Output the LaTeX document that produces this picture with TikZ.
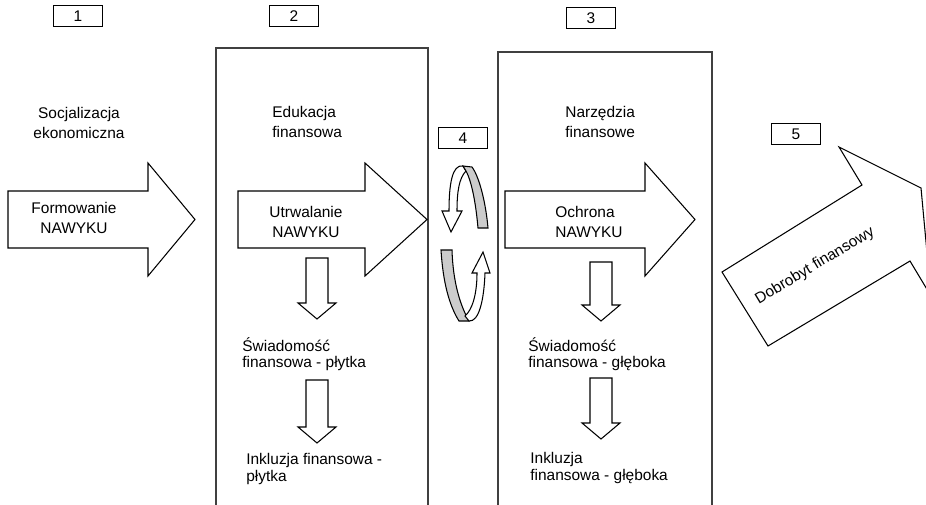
\documentclass[tikz,border=0pt]{standalone}
\usepackage{fontspec}
\setmainfont{Liberation Sans}
\usetikzlibrary{calc,positioning}

\begin{document}
\begin{tikzpicture}[x=0.02cm,y=-0.02cm,
  numbox/.style={draw,line width=0.6pt,minimum width=0.98cm,minimum height=0.42cm,inner sep=0pt,font=\fontsize{8.8}{10}\selectfont},
  frame/.style={draw=black!75,line width=0.8pt},
  shp/.style={draw,line width=0.6pt,fill=white,line join=miter},
  ribbon/.style={draw,line width=0.6pt,fill=gray!40},
  lbl/.style={inner sep=0pt,align=left,font=\fontsize{8.8}{9.4}\selectfont},
  lblw/.style={inner sep=0pt,align=center,font=\fontsize{8.8}{11}\selectfont}]

\useasboundingbox (0,0) rectangle (926,504);
\fill[white] (0,0) rectangle (926,504);
\clip (0,0) rectangle (926,504);

% columns 2 and 3
\draw[frame] (216,520) -- (216,48) -- (428,48) -- (428,520);
\draw[frame] (498,520) -- (498,52) -- (712,52) -- (712,520);

% number boxes
\node[numbox] (n1) at (78,16) {1};
\node[numbox] (n2) at (294,16) {2};
\node[numbox] (n3) at (591,18) {3};
\node[numbox] (n4) at (463,138) {4};
\node[numbox] (n5) at (796,134) {5};

% big arrows to the right
\foreach \xa/\xb/\xc in {8/148/195, 238/365/427, 505/645/695}
  \draw[shp] (\xa,191) -- (\xb,191) -- (\xb,163) -- (\xc,219.5) -- (\xb,276) -- (\xb,248) -- (\xa,248) -- cycle;

% small arrows down
\foreach \cx/\ty/\hy in {317/258/303, 317/380/427, 601/262/305, 601/378/423}
  \draw[shp] (\cx-11,\ty) -- (\cx+11,\ty) -- (\cx+11,\hy) -- (\cx+19,\hy) -- (\cx,\hy+16) -- (\cx-19,\hy) -- (\cx-11,\hy) -- cycle;

% turning ribbons (4)
\draw[shp] (463,166) .. controls (452,164) and (449,185) .. (449,211) -- (442,211) -- (451,232) -- (462,211) -- (457,211) .. controls (457,192) and (459,178) .. (466,171) -- cycle;
\draw[ribbon] (463,166) -- (472,167) .. controls (480,178) and (486,205) .. (488,228) -- (478,228) .. controls (476,205) and (472,182) .. (466,171) -- cycle;
\draw[ribbon] (441,250) -- (452,250) .. controls (453,282) and (460,305) .. (469,321) -- (459,321) .. controls (449,305) and (443,282) .. (441,250) -- cycle;
\draw[shp] (469,321) .. controls (479,322) and (484,300) .. (485,273) -- (490,273) -- (483,252) -- (472,273) -- (477,273) .. controls (477,295) and (472,310) .. (465,316) -- cycle;

% arrow 5
\draw[shp] (768,346) -- (722,272) -- (862,185) -- (839,147) -- (921,188) -- (931,296) -- (910,261) -- cycle;

% labels
\node[lblw] (soc) at (79,123) {Socjalizacja\\ekonomiczna};
\node[lblw] (form) at (74,218) {Formowanie\\NAWYKU};
\node[lblw,align=left,anchor=west] (edu) at (272,122) {Edukacja\\finansowa};
\node[lblw] (utr) at (306,222) {Utrwalanie\\NAWYKU};
\node[lblw,align=left,anchor=west] (narz) at (565,122) {Narzędzia\\finansowe};
\node[lblw,align=left,anchor=west] (ochr) at (555,222) {Ochrona\\NAWYKU};
\node[lbl,anchor=west] (sw2) at (242,354) {Świadomość\\finansowa - płytka};
\node[lbl,anchor=west] (ink2) at (246,469) {Inkluzja finansowa -\\płytka};
\node[lbl,anchor=west] (sw3) at (528,354) {Świadomość\\finansowa - głęboka};
\node[lbl,anchor=west] (ink3) at (530,468) {Inkluzja\\finansowa - głęboka};
\node[lblw,rotate=31] (dob) at (815,266) {Dobrobyt finansowy};
\end{tikzpicture}
\end{document}
